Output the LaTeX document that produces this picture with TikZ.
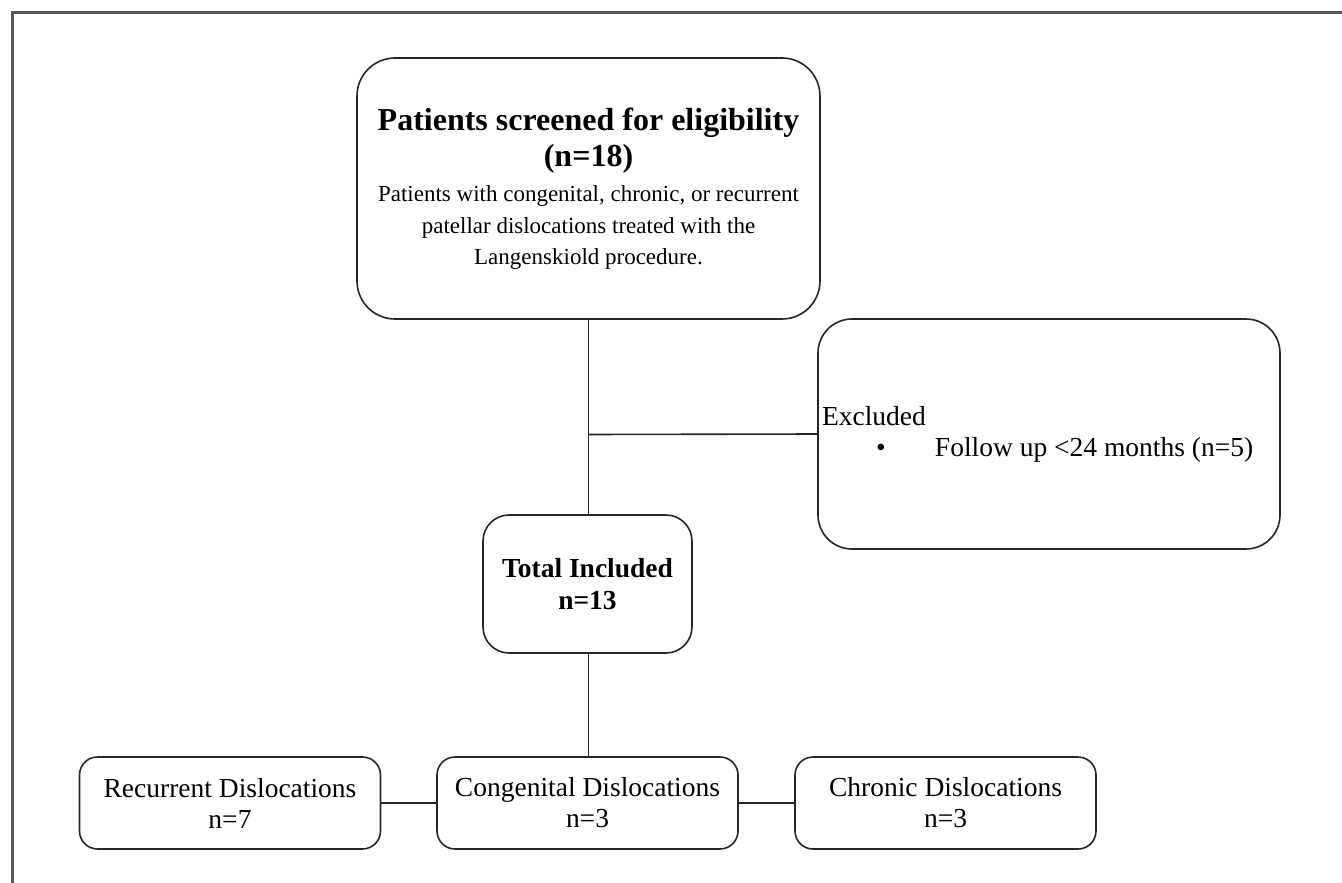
\documentclass[tikz,border=0pt]{standalone}
\usepackage{fontspec}
\setmainfont{Liberation Serif}
\begin{document}
\begin{tikzpicture}[x=1pt,y=-1pt,
  box/.style={draw=black!85, line width=1.6pt, rounded corners=#1, inner sep=0pt, align=center},
  link/.style={draw=black!85, line width=1.6pt},
  frame/.style={draw=black!65, line width=2.6pt},
  txt/.style={font=\fontsize{27.5}{31}\selectfont},
  lowbox/.style={box=18pt, minimum width=301pt, minimum height=92pt, txt}]
\useasboundingbox (0,0) rectangle (1342,883);
\draw[frame] (12.5,883) -- (12.5,12.5) -- (1342,12.5);

\node[box=38pt, minimum width=463pt, minimum height=261pt, text width=455pt, align=flush center] (screen) at (588.5,188.5)
 {{\fontsize{32}{36}\selectfont\bfseries Patients screened for eligibility\\(n=18)\par}\vspace{4pt}%
  {\fontsize{23}{31.5}\selectfont Patients with congenital, chronic, or recurrent\\patellar dislocations treated with the\\Langenskiold procedure.\par}};

\node[box=34pt, minimum height=230pt, text width=454pt, inner xsep=4pt, align=flush left, txt] (excl) at (1049,434)
 {Excluded\\\hspace*{54pt}\makebox[59pt][l]{\textbullet}Follow up <24 months (n=5)};

\node[box=26pt, minimum width=209pt, minimum height=138pt, font=\fontsize{27.5}{32}\selectfont\bfseries] (total) at (587.5,584)
 {Total Included\\n=13};

\node[lowbox] (rec) at (230,803) {Recurrent Dislocations\\n=7};
\node[lowbox] (cong) at (587.5,803) {Congenital Dislocations\\n=3};
\node[lowbox] (chron) at (945.5,803) {Chronic Dislocations\\n=3};

\coordinate (branch) at (588,434.5);
\draw[link] (screen.south) -- (screen.south |- total.north);
\draw[link] (branch) -- (excl.west);
\draw[link] (total.south -| screen.south) -- (screen.south |- cong.north);
\draw[link] (rec.east) -- (cong.west);
\draw[link] (cong.east) -- (chron.west);
\end{tikzpicture}
\end{document}
